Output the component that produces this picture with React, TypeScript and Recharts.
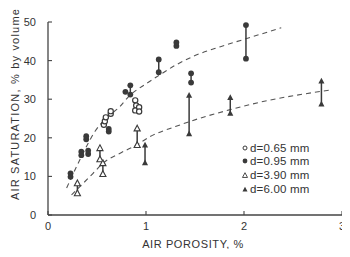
import React from 'react';
import { ComposedChart, Scatter, Line, XAxis, YAxis } from 'recharts';

const xTicks = [0, 1, 2, 3];
const yTicks = [0, 10, 20, 30, 40, 50];

const openCircles = [
  { x: 0.57, y: 23.4 }, { x: 0.58, y: 24.3 }, { x: 0.59, y: 25.3 }, { x: 0.64, y: 26.2 }, { x: 0.64, y: 26.9 },
  { x: 0.89, y: 29.7 }, { x: 0.9, y: 28.4 }, { x: 0.89, y: 27.1 }, { x: 0.93, y: 27.9 }, { x: 0.93, y: 26.8 },
];

const filledSingles = [
  { x: 0.23, y: 9.9 }, { x: 0.23, y: 10.8 }, { x: 0.34, y: 15.5 }, { x: 0.34, y: 16.4 },
  { x: 0.39, y: 19.6 }, { x: 0.39, y: 20.4 }, { x: 0.41, y: 15.8 }, { x: 0.41, y: 16.7 },
  { x: 0.62, y: 21.6 }, { x: 0.62, y: 22.3 }, { x: 0.79, y: 31.9 }, { x: 1.31, y: 43.8 }, { x: 1.31, y: 44.7 },
];

const filledPairs = [
  { x: 0.84, lo: 31.2, hi: 33.6 }, { x: 1.13, lo: 37.0, hi: 40.3 },
  { x: 1.46, lo: 34.3, hi: 36.7 }, { x: 2.02, lo: 40.5, hi: 49.2 },
];

const openTriPairs = [
  { x: 0.3, lo: 5.6, hi: 8.2 }, { x: 0.53, lo: 14.4, hi: 17.3 },
  { x: 0.56, lo: 10.6, hi: 13.4 }, { x: 0.91, lo: 18.1, hi: 22.4 },
];

const filledTriPairs = [
  { x: 0.99, lo: 13.5, hi: 18.1 }, { x: 1.44, lo: 21.0, hi: 31.0 },
  { x: 1.86, lo: 26.3, hi: 30.4 }, { x: 2.79, lo: 28.7, hi: 34.7 },
];

const upperCurve = [
  { x: 0.19, y: 7 }, { x: 0.3, y: 13 }, { x: 0.41, y: 18.6 }, { x: 0.48, y: 21.7 }, { x: 0.6, y: 25.2 },
  { x: 0.73, y: 28 }, { x: 0.82, y: 30.6 }, { x: 1.0, y: 34 }, { x: 1.11, y: 35.8 }, { x: 1.3, y: 38.8 },
  { x: 1.5, y: 41.3 }, { x: 1.76, y: 43.6 }, { x: 2.0, y: 45.5 }, { x: 2.38, y: 48.5 },
];

const lowerCurve = [
  { x: 0.24, y: 5.2 }, { x: 0.46, y: 10.8 }, { x: 0.56, y: 13.4 }, { x: 0.75, y: 16.2 }, { x: 0.91, y: 18.2 },
  { x: 1.04, y: 20.3 }, { x: 1.3, y: 22.9 }, { x: 1.41, y: 23.9 }, { x: 1.86, y: 27.3 }, { x: 2.27, y: 29.8 },
  { x: 2.6, y: 31.3 }, { x: 2.89, y: 32.4 },
];

const legendItems = [
  { kind: 'openCircle', label: 'd=0.65 mm' },
  { kind: 'filledCircle', label: 'd=0.95 mm' },
  { kind: 'openTri', label: 'd=3.90 mm' },
  { kind: 'filledTri', label: 'd=6.00 mm' },
];

const INK = '#3a3a3a';
const FONT = '"Liberation Sans", Arial, sans-serif';

const OpenCircle = (p: any) => (
  <circle cx={p.cx} cy={p.cy} r={2.6} fill="#fff" stroke={INK} strokeWidth={1.2} />
);
const FilledCircle = (p: any) => <circle cx={p.cx} cy={p.cy} r={2.9} fill={INK} />;
const triPath = (cx: number, cy: number, s: number) =>
  `M${cx},${cy - s} L${cx + s * 0.9},${cy + s * 0.7} L${cx - s * 0.9},${cy + s * 0.7} Z`;
const OpenTri = (p: any) => (
  <path d={triPath(p.cx, p.cy, 3.4)} fill="#fff" stroke={INK} strokeWidth={1.1} />
);
const FilledTri = (p: any) => <path d={triPath(p.cx, p.cy, 3.4)} fill={INK} />;

const pairData = (p: { x: number; lo: number; hi: number }) => [
  { x: p.x, y: p.lo },
  { x: p.x, y: p.hi },
];

const XTick = (p: any) => (
  <text x={p.x} y={p.y} dy="0.75em" textAnchor="middle" fill="#333" fontSize={11} fontFamily={FONT}>
    {p.payload.value}
  </text>
);

const LegendMarker = ({ kind }: { kind: string }) => (
  <svg width={8} height={8} style={{ display: 'block' }}>
    {kind === 'openCircle' && <circle cx={4} cy={4} r={2} fill="#fff" stroke={INK} strokeWidth={1} />}
    {kind === 'filledCircle' && <circle cx={4} cy={4} r={2.4} fill={INK} />}
    {kind === 'openTri' && <path d={triPath(4, 4.5, 2.8)} fill="#fff" stroke={INK} strokeWidth={0.9} />}
    {kind === 'filledTri' && <path d={triPath(4, 4.5, 2.8)} fill={INK} />}
  </svg>
);

export default function App() {
  const tickStyle = { fill: '#333', fontSize: 11, fontFamily: FONT };
  const axisLine = { stroke: '#444', strokeWidth: 1.3 };
  const tickLine = { stroke: '#444', strokeWidth: 1.1 };
  return (
    <div style={{ position: 'relative', width: 342, height: 241, fontFamily: FONT }}>
      <ComposedChart width={342} height={241} margin={{ top: 14, right: 8, left: 0, bottom: 0 }} style={{ overflow: 'visible' }}>
        <XAxis
          xAxisId={0}
          type="number"
          dataKey="x"
          domain={[0, 3]}
          ticks={xTicks}
          interval={0}
          height={34}
          tickSize={-4}
          tickMargin={11}
          tick={XTick}
          axisLine={axisLine}
          tickLine={tickLine}
        />
        <XAxis
          xAxisId="top"
          orientation="top"
          type="number"
          dataKey="x"
          domain={[0, 3]}
          ticks={xTicks}
          height={0}
          tickSize={-4}
          tickFormatter={() => ''}
          axisLine={axisLine}
          tickLine={tickLine}
        />
        <YAxis
          yAxisId={0}
          type="number"
          dataKey="y"
          domain={[0, 50]}
          ticks={yTicks}
          interval={0}
          width={40}
          tickSize={-4}
          tickMargin={16}
          tick={tickStyle}
          axisLine={axisLine}
          tickLine={tickLine}
        />
        <YAxis
          yAxisId="right"
          orientation="right"
          type="number"
          dataKey="y"
          domain={[0, 50]}
          ticks={yTicks}
          width={0}
          tickSize={-4}
          tickFormatter={() => ''}
          axisLine={axisLine}
          tickLine={tickLine}
        />
        <Line
          data={upperCurve}
          dataKey="y"
          type="monotone"
          stroke="#555"
          strokeWidth={1.1}
          strokeDasharray="5 4"
          dot={false}
          activeDot={false}
          isAnimationActive={false}
        />
        <Line
          data={lowerCurve}
          dataKey="y"
          type="monotone"
          stroke="#555"
          strokeWidth={1.1}
          strokeDasharray="5 4"
          dot={false}
          activeDot={false}
          isAnimationActive={false}
        />
        <Scatter data={openCircles} dataKey="y" shape={OpenCircle} isAnimationActive={false} />
        <Scatter data={filledSingles} dataKey="y" shape={FilledCircle} isAnimationActive={false} />
        {filledPairs.map((p, i) => (
          <Scatter
            key={'fp' + i}
            data={pairData(p)}
            dataKey="y"
            shape={FilledCircle}
            line={{ stroke: INK, strokeWidth: 1.5 }}
            isAnimationActive={false}
          />
        ))}
        {openTriPairs.map((p, i) => (
          <Scatter
            key={'ot' + i}
            data={pairData(p)}
            dataKey="y"
            shape={OpenTri}
            line={{ stroke: INK, strokeWidth: 1.5 }}
            isAnimationActive={false}
          />
        ))}
        {filledTriPairs.map((p, i) => (
          <Scatter
            key={'ft' + i}
            data={pairData(p)}
            dataKey="y"
            shape={FilledTri}
            line={{ stroke: INK, strokeWidth: 1.5 }}
            isAnimationActive={false}
          />
        ))}
      </ComposedChart>
      <div
        style={{
          position: 'absolute',
          left: 7,
          top: 96,
          transform: 'translate(-50%, -50%) rotate(-90deg)',
          whiteSpace: 'nowrap',
          fontSize: 11,
          color: '#333',
          letterSpacing: 1.2,
        }}
      >
        AIR SATURATION, % by volume
      </div>
      <div
        style={{
          position: 'absolute',
          left: 185,
          top: 236,
          transform: 'translate(-50%, -50%)',
          whiteSpace: 'nowrap',
          fontSize: 11,
          color: '#333',
          letterSpacing: 0.6,
        }}
      >
        AIR POROSITY, %
      </div>
      <div style={{ position: 'absolute', left: 233, top: 133 }}>
        {legendItems.map((it) => (
          <div
            key={it.label}
            style={{ display: 'flex', alignItems: 'center', height: 13.6, fontSize: 11.5, color: '#333', letterSpacing: 0.2 }}
          >
            <LegendMarker kind={it.kind} />
            <span style={{ marginLeft: 1 }}>{it.label}</span>
          </div>
        ))}
      </div>
    </div>
  );
}
